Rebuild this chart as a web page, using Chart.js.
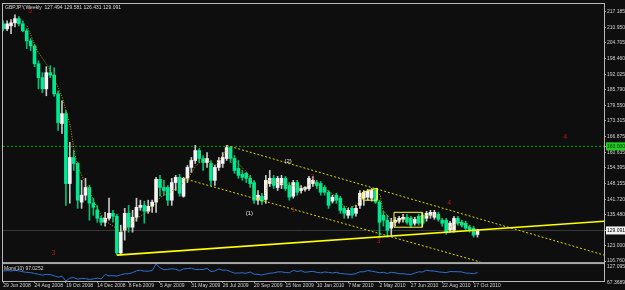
<!DOCTYPE html>
<html><head><meta charset="utf-8">
<script src="https://cdn.jsdelivr.net/npm/chart.js@4.4.0/dist/chart.umd.min.js"></script>
<style>
html,body{margin:0;padding:0;background:#101010;}
canvas{display:block;}
</style></head><body>
<canvas id="c" width="625" height="290"></canvas>
<script>
// ---------- DATA ----------
const symbol = 'GBPJPY';
const period = 'Weekly';
const dateTickIndex = [0,8,16,24,32,40,48,56,64,72,80,88,96,104,112,120];
const dateTickLabels = ['29 Jun 2008','24 Aug 2008','19 Oct 2008','14 Dec 2008','8 Feb 2009','5 Apr 2009','31 May 2009','26 Jul 2009','20 Sep 2009','15 Nov 2009','10 Jan 2010','7 Mar 2010','2 May 2010','27 Jun 2010','22 Aug 2010','17 Oct 2010'];

const opens = [212.4,210.4,211.6,212.8,214.5,212.4,209.6,205.5,203.5,196.3,
190.7,186.2,192.7,191.7,184.2,172.2,176.2,148.0,158.5,156.1,
140.5,143.3,146.4,140.1,137.4,134.0,132.4,134.0,136.0,134.8,
120.0,129.2,136.0,130.4,134.4,138.4,139.2,136.8,138.8,140.5,
149.7,146.4,146.4,141.3,148.4,150.5,142.9,150.1,154.5,157.3,
161.3,158.1,156.5,156.1,149.3,154.5,156.1,158.1,162.5,158.1,
154.1,151.7,152.1,150.1,148.4,141.3,142.9,141.6,148.0,150.1,
146.4,147.5,150.1,147.2,142.9,148.4,145.2,145.7,146.0,148.0,
148.4,148.0,146.4,144.5,140.9,143.3,142.1,138.0,135.2,138.0,
136.0,139.2,142.1,142.5,142.1,145.2,140.5,135.2,133.2,130.0,
132.4,132.8,133.6,134.4,134.0,132.0,134.8,135.2,134.0,135.2,
134.4,135.6,133.2,133.2,129.2,129.2,134.0,132.4,132.0,130.4,
130.0,127.494];
const highs = [213.6,213.6,214.1,216.0,215.3,213.6,210.4,206.4,204.0,197.5,
192.7,195.1,195.5,194.7,185.4,181.4,177.4,164.6,161.3,156.5,
149.3,150.1,147.3,142.1,139.2,134.8,136.4,142.1,137.2,135.6,
131.2,138.0,139.2,137.2,142.1,141.3,140.9,141.3,141.3,150.5,
151.3,149.3,147.2,150.1,151.3,151.7,150.5,155.3,158.5,163.4,
162.1,159.3,160.5,157.3,155.3,158.5,160.5,163.4,162.9,159.3,
157.3,153.3,152.5,151.3,149.3,145.2,144.1,151.3,153.3,151.3,
150.9,151.3,150.9,148.4,149.3,149.3,147.2,146.8,150.9,150.9,
149.3,148.8,147.2,145.2,143.3,144.1,142.9,138.8,138.0,138.8,
139.2,145.2,145.2,145.7,146.0,146.0,141.3,136.8,135.2,134.0,
134.4,134.8,135.6,135.6,134.8,134.4,135.6,136.0,136.8,137.2,
137.2,136.4,134.0,134.0,132.8,134.8,134.8,133.2,132.8,131.2,
130.8,129.581];
const lows = [209.6,209.6,208.4,211.2,211.6,209.2,202.4,201.6,195.1,186.2,
184.6,183.4,190.7,183.2,169.4,168.2,139.2,140.1,153.3,138.0,
138.0,141.3,133.2,135.2,132.4,131.2,130.8,133.2,132.4,119.2,
119.2,125.2,128.4,128.4,132.8,137.2,132.0,136.0,136.4,136.4,
142.9,143.3,139.2,139.2,145.2,142.9,142.5,148.4,152.5,156.1,
156.5,153.3,154.5,147.2,147.2,153.3,154.5,157.3,156.5,152.1,
150.1,149.3,148.4,146.4,140.0,139.6,139.6,140.0,146.8,146.0,
145.2,146.0,145.2,141.3,142.1,143.3,144.1,144.9,145.2,146.8,
146.0,143.3,143.3,138.0,140.1,140.0,136.0,134.0,134.0,134.0,
134.8,138.0,139.2,141.3,140.9,140.0,126.4,130.8,126.4,127.2,
130.8,132.0,132.4,131.6,130.4,131.2,131.2,131.2,132.8,134.0,
133.6,132.8,130.8,127.6,128.4,128.4,131.2,130.4,129.2,128.4,
126.4,126.431];
const closes = [210.4,212.4,212.8,214.5,212.4,209.6,205.5,203.5,196.3,190.7,
186.2,192.7,191.7,184.2,172.6,176.2,148.0,158.5,156.1,141.3,
143.3,146.4,140.1,138.4,134.0,132.4,134.0,136.0,134.8,120.0,
128.4,136.0,130.4,134.4,138.4,139.2,136.8,138.8,140.5,149.7,
146.4,145.2,141.3,148.4,150.5,144.1,150.1,154.5,157.3,161.3,
158.1,156.5,158.1,149.3,154.5,157.3,158.5,162.5,158.1,153.3,
151.3,150.5,150.1,148.0,141.3,143.3,140.9,149.3,150.1,147.2,
150.1,150.1,146.0,142.5,148.4,144.5,146.0,146.4,150.1,149.3,
147.2,144.5,144.5,139.2,142.5,141.3,137.2,136.0,137.2,135.2,
138.0,144.1,144.5,144.9,145.2,140.5,132.4,133.2,129.2,132.4,
133.2,134.0,134.4,132.4,131.2,133.6,132.0,132.0,136.0,136.4,
136.4,133.6,132.0,128.4,132.0,134.0,132.0,131.2,130.0,129.2,
127.2,129.091];

const momentum = [103,104,103,105,103,100,98,97,94,91,
88.4,90.7,90.0,85.8,81.1,84.0,67.4,77.7,79.3,73.9,
76.7,75.8,72.8,74.9,77.5,74.9,90.4,85.6,86.2,84.7,
89.5,92.8,93.0,97.1,103.3,105.2,102.1,102.1,104.2,127.1,
114.3,106.9,108.5,110.5,108.9,103.5,109.8,111.4,112.2,107.8,
108.1,107.9,112.1,100.6,102.7,109.3,105.7,105.3,100.5,95.0,
95.6,96.1,94.9,99.1,91.4,90.9,88.7,91.8,94.9,96.0,
99.2,99.7,97.3,96.2,105.1,100.8,103.7,98.1,100.0,101.4,
98.1,96.2,98.9,97.7,95.9,97.8,93.9,92.8,91.3,90.5,
93.7,99.7,100.0,104.1,102.0,99.4,96.5,97.9,94.1,97.9,
96.5,93.0,93.0,91.3,90.2,95.1,99.7,99.1,105.4,103.0,
102.4,99.7,98.2,96.9,100.7,100.3,100.0,99.3,95.5,94.6,
93.2,97.0252];
const momPeriod = 10;
const momAxisMax = 127.0951;
const momAxisMin = 67.3689;

const priceTicks = [217.185,210.950,204.705,198.460,192.025,185.790,179.550,173.315,166.875,160.635,154.395,148.155,141.720,135.480,123.000,116.760];
const hLineLevel = 163.000;

// drawn objects (bar index, price)
const supportLine = [{x:29,y:119.15},{x:153.3,y:132.8}];
const channelUpper = [{x:57,y:163.4},{x:153.3,y:119.15}];
const channelLower = [{x:45.9,y:150.1},{x:121.7,y:116.4}];
const zigzagPath = [
 {x:6.1,y:211.56},{x:8.7,y:201.52},{x:11.5,y:195.09},{x:13.3,y:189.46},{x:15.1,y:182.63},
 {x:17.1,y:171.38},{x:18.1,y:161.34},{x:19.1,y:154.51},{x:20.9,y:148.48},{x:22.7,y:142.45},
 {x:24.7,y:136.03},{x:26.5,y:132.41},{x:28.1,y:130.80},{x:30.1,y:128.39},{x:32.1,y:131.20},
 {x:34.9,y:134.82},{x:37.5,y:137.23},{x:40.1,y:142.45},{x:42.6,y:144.46},{x:45.2,y:147.28},
 {x:47.2,y:150.09},{x:49.2,y:155.31},{x:51.5,y:158.12},{x:54.1,y:155.31},{x:56.9,y:161.34},
 {x:59.2,y:157.32},{x:62.2,y:152.50},{x:63.5,y:148.08},{x:64.5,y:142.45},{x:66.3,y:140.45},
 {x:67.6,y:149.29},{x:70.7,y:148.08},{x:73.7,y:147.28},{x:77.0,y:146.07},{x:79.1,y:149.29},
 {x:82.7,y:145.27},{x:85.2,y:142.45},{x:86.7,y:139.24},{x:88.5,y:138.03},{x:90.6,y:140.04},
 {x:91.8,y:144.46},{x:94.4,y:146.07},{x:96.2,y:143.26},{x:96.9,y:137.23},{x:99.5,y:132.41},
 {x:103.8,y:134.02},{x:109.7,y:135.62},{x:111.5,y:134.02},{x:114.0,y:130.40},{x:116.6,y:132.41},
 {x:119.1,y:130.40},{x:120.7,y:128.79}];
const boxRange = [{x:99.7,y:136.4},{x:106.9,y:136.4},{x:106.9,y:130.4},{x:99.7,y:130.4},{x:99.7,y:136.4}];
const boxSmall = [{x:91.8,y:144.5},{x:95.4,y:146.1},{x:95.4,y:141.3},{x:91.8,y:141.3},{x:91.8,y:144.5}];

const noteText = ['(1)','(2)','3','3','4','4','1','2','5'];
const noteIdx  = [62.8,72.7,12.8,95.7,143.4,113.8,74.0,78.8,6.9];
const notePrice= [136.0,156.9,120.0,124.8,166.9,140.0,137.2,150.5,217.6];
const noteKind = ['w','w','r','r','r','r','r','r','r'];

// ---------- BUILD ----------
const last = closes.length - 1;
const up = closes.map((c,i)=> c >= opens[i]);
const bodyData = opens.map((o,i)=>({x:i, y:[o, closes[i]]}));
const wickData = lows.map((l,i)=>({x:i, y:[l, highs[i]]}));
const momData = momentum.map((m,i)=>({x:i, y:m}));

const X_MIN = -0.05, X_MAX = 153.27;
const FONT = 'Liberation Sans';

const overlay = {
  id:'overlay',
  beforeDraw(chart){
    const c=chart.ctx; c.save(); c.fillStyle='#0e0e0e'; c.fillRect(0,0,chart.width,chart.height); c.restore();
  },
  afterDatasetsDraw(chart){
    const c=chart.ctx, xs=chart.scales.x, ys=chart.scales.y;
    c.save();
    c.textAlign='center'; c.textBaseline='middle';
    noteText.forEach((t,k)=>{
      if(noteKind[k]==='w'){ c.fillStyle='#e8e8e8'; c.font='6px "'+FONT+'"'; }
      else { c.fillStyle='#b01818'; c.font='7px "'+FONT+'"'; }
      c.fillText(t, xs.getPixelForValue(noteIdx[k]), ys.getPixelForValue(notePrice[k]));
    });
    c.restore();
  },
  afterDraw(chart){
    const c=chart.ctx, a=chart.chartArea, ys=chart.scales.y, ms=chart.scales.m;
    c.save();
    c.strokeStyle='#b8b8b8'; c.lineWidth=1;
    c.strokeRect(a.left-0.5, a.top-0.5, a.right-a.left+1, a.bottom-a.top+1);
    c.fillStyle='#a8a8a8'; c.fillRect(a.left, ys.bottom, a.right-a.left, 2);
    c.font='5px "'+FONT+'"'; c.fillStyle='#d8d8d8'; c.textAlign='left'; c.textBaseline='middle';
    const hdr = symbol+','+period+'  '+[opens[last],highs[last],lows[last],closes[last]].map(v=>v.toFixed(3)).join(' ');
    c.fillText(hdr, a.left+2, a.top+4);
    c.fillText('Mom('+momPeriod+') '+momentum[last].toFixed(4), a.left+1, ms.top+7);
    c.fillText(momAxisMax.toFixed(4), a.right+3, ms.top+5);
    c.fillText(momAxisMin.toFixed(4), a.right+3, ms.bottom+2);
    c.restore();
  }
};

const lineBase = {type:'line', pointRadius:0, borderWidth:1, tension:0, fill:false};

new Chart(document.getElementById('c'), {
  type:'bar',
  data:{datasets:[
    Object.assign({}, lineBase, {label:'h163', data:[{x:X_MIN,y:hLineLevel},{x:X_MAX,y:hLineLevel}], borderColor:'#00a800', borderDash:[2,2], order:30}),
    Object.assign({}, lineBase, {label:'bid', data:[{x:X_MIN,y:closes[last]},{x:X_MAX,y:closes[last]}], borderColor:'#3a3a3a', order:31}),
    {label:'wick', data:wickData, backgroundColor:up.map(u=>u?'#c8c8c8':'#00c078'), barThickness:1, grouped:false, borderWidth:0, order:21},
    {label:'body', data:bodyData, backgroundColor:up.map(u=>u?'#f4f4f4':'#00e892'), barThickness:3, grouped:false, borderWidth:0, minBarLength:1, order:20},
    Object.assign({}, lineBase, {label:'mom', data:momData, yAxisID:'m', borderColor:'#2f6fd0', order:10}),
    Object.assign({}, lineBase, {label:'zig', data:zigzagPath, borderColor:'#c0a400', borderDash:[1,1.5], order:6}),
    Object.assign({}, lineBase, {label:'chU', data:channelUpper, borderColor:'#d8d800', borderDash:[2,2], order:5}),
    Object.assign({}, lineBase, {label:'chL', data:channelLower, borderColor:'#d8d800', borderDash:[2,2], order:5}),
    Object.assign({}, lineBase, {label:'sup', data:supportLine, borderColor:'#ffff00', borderWidth:1.6, order:4}),
    Object.assign({}, lineBase, {label:'box1', data:boxRange, borderColor:'#ffff40', order:3}),
    Object.assign({}, lineBase, {label:'box2', data:boxSmall, borderColor:'#ffff40', order:3})
  ]},
  options:{
    responsive:false, animation:false, events:[],
    layout:{padding:{left:3, top:3, right:0, bottom:0}},
    plugins:{legend:{display:false}, tooltip:{enabled:false}},
    scales:{
      x:{type:'linear', position:'bottom', min:X_MIN, max:X_MAX, offset:false,
         grid:{display:true, drawOnChartArea:false, drawTicks:true, tickLength:2, color:'#a0a0a0', offset:false},
         border:{display:false},
         afterBuildTicks:(s)=>{ s.ticks = dateTickIndex.map(v=>({value:v})); },
         afterFit:(s)=>{ s.height = 9; },
         ticks:{autoSkip:false, maxRotation:0, minRotation:0, align:'start', padding:0, color:'#d0d0d0',
                font:{family:FONT, size:5},
                callback:(v)=> dateTickLabels[dateTickIndex.indexOf(v)] }
      },
      y:{type:'linear', position:'right', stack:'v', stackWeight:259, min:116.34, max:220.40,
         grid:{display:true, drawOnChartArea:false, drawTicks:true, tickLength:2, color:'#a0a0a0'},
         border:{display:false},
         afterBuildTicks:(s)=>{ s.ticks = priceTicks.concat([hLineLevel, closes[last]]).map(v=>({value:v})); },
         afterFit:(s)=>{ s.width = 21; },
         ticks:{autoSkip:false, padding:1, font:{family:FONT, size:5},
                color:(ctx)=> ctx.tick && ctx.tick.value===hLineLevel ? '#002800' : (ctx.tick && ctx.tick.value===closes[last] ? '#000000' : '#d0d0d0'),
                showLabelBackdrop:(ctx)=> !!ctx.tick && (ctx.tick.value===hLineLevel || ctx.tick.value===closes[last]),
                backdropColor:(ctx)=> ctx.tick && ctx.tick.value===hLineLevel ? '#22cc22' : '#f4f4f4',
                backdropPadding:{top:1,bottom:1,left:1,right:3},
                callback:(v)=> Number(v).toFixed(3) }
      },
      m:{type:'linear', position:'right', stack:'v', stackWeight:19, min:momAxisMin, max:134.12,
         grid:{display:false}, border:{display:false},
         afterFit:(s)=>{ s.width = 21; },
         ticks:{display:false}
      }
    }
  },
  plugins:[overlay]
});
</script>
</body></html>
